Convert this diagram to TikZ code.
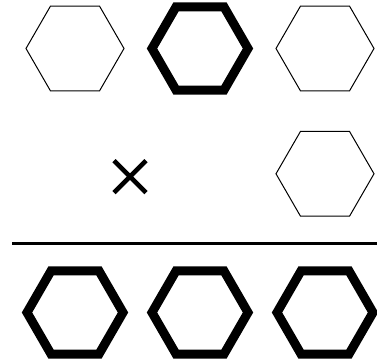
\documentclass[tikz,border=0pt]{standalone}
\usetikzlibrary{shapes.geometric,calc}
\begin{document}
\begin{tikzpicture}[x=1pt,y=1pt,
  thinhex/.style={regular polygon,regular polygon sides=6,draw=black,line width=1pt,inner sep=0pt,minimum size=98pt},
  thickhex/.style={regular polygon,regular polygon sides=6,draw=black,line width=9pt,inner sep=0pt,minimum size=96pt,line join=miter},
  crossline/.style={line width=4.6pt,line cap=butt}]
\useasboundingbox (0,0) rectangle (377,362);
% top row
\node[thinhex] (t1) at (75,313.5) {};
\node[thickhex] (t2) at (200,313.5) {};
\node[thinhex] (t3) at (325,313.5) {};
% middle row
\coordinate (x) at (130,185.3);
\draw[crossline] ($(x)+(-16,16)$) -- ($(x)+(16,-16)$);
\draw[crossline] ($(x)+(-16,-16)$) -- ($(x)+(16,16)$);
\node[thinhex] (m3) at (325,188.2) {};
% rule
\coordinate (ra) at (12,118.7);
\coordinate (rb) at (377,118.7);
\draw[line width=3.5pt] (ra) -- (rb);
% bottom row
\node[thickhex] (b1) at (75,49.5) {};
\node[thickhex] (b2) at (200,49.5) {};
\node[thickhex] (b3) at (325,49.5) {};
\end{tikzpicture}
\end{document}
